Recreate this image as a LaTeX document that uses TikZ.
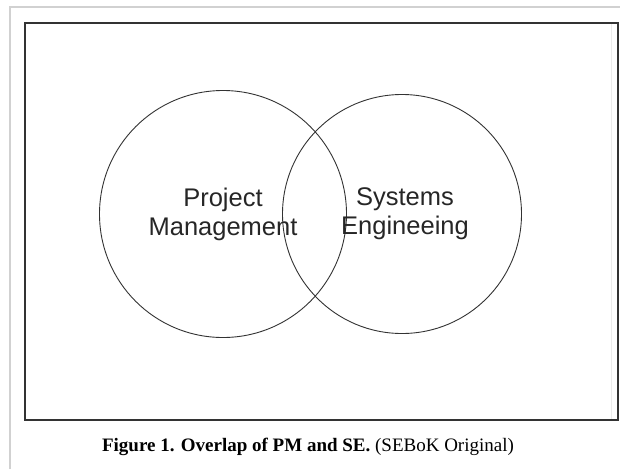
\documentclass[tikz,border=0pt]{standalone}
\usepackage{fontspec}
\setmainfont{Liberation Serif}
\newfontfamily\arialfont{Liberation Sans}
\usepackage{tikz}
\usetikzlibrary{positioning}

\tikzset{
    setlabel/.style={font=\arialfont\fontsize{25.5}{29}\selectfont, align=center, text=black!85, inner sep=0pt},
    setcircle/.style={draw=black!80, line width=0.9pt},
}

\begin{document}
\begin{tikzpicture}[x=1pt, y=-1pt]
    \useasboundingbox (0,0) rectangle (620,469);
    % outer frame
    \draw[draw=black!18, line width=1.6pt] (10,469) -- (10,7) -- (621,7);
    % inner box
    \draw[draw=black!80, line width=1.6pt] (25,23) rectangle (618,420);
    \draw[draw=black!8, line width=1pt] (611,24) -- (611,419);
    % the two sets
    \draw[setcircle] (223,214) circle (123.5);
    \draw[setcircle] (402,214) circle (119.5);
    \node[setlabel] (pm) at (223,214) {Project\\Management};
    \node[setlabel] (se) at (405,214) {Systems\\Engineeing};
    % caption
    \node[font=\fontsize{19}{22}\selectfont, inner sep=0pt] (cap) at (308,447) {\textbf{Figure 1. Overlap of PM and SE.} (SEBoK Original)};
\end{tikzpicture}
\end{document}
